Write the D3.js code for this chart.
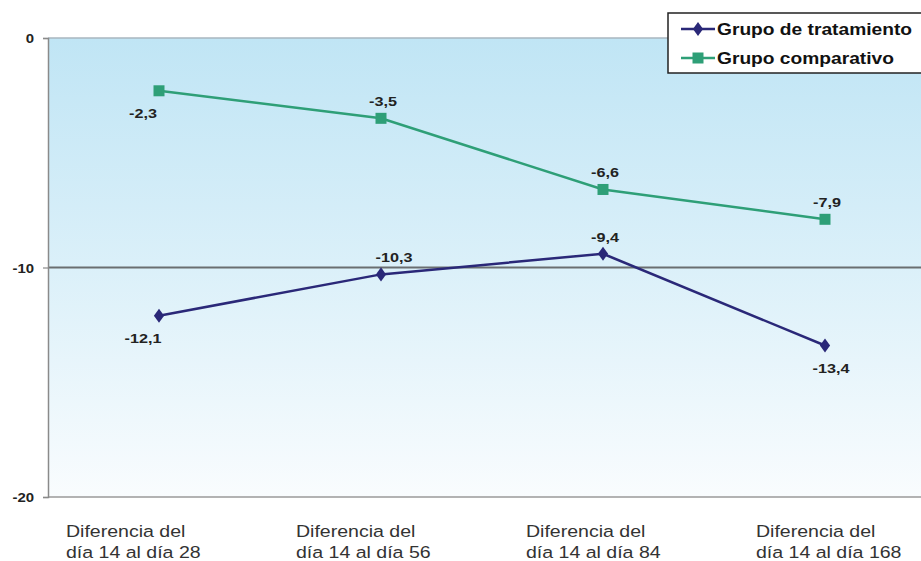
<!DOCTYPE html>
<html>
<head>
<meta charset="utf-8">
<script src="https://cdn.jsdelivr.net/npm/d3@7"></script>
<style>
  html, body { margin: 0; padding: 0; background: #fff; }
  svg { display: block; }
</style>
</head>
<body>
<svg id="chart" width="921" height="561"></svg>
<script>
// Category labels (two lines each)
const categories = ["p28", "p56", "p84", "p168"];
const categoryLines = [
  ["Diferencia del", "día 14 al día 28"],
  ["Diferencia del", "día 14 al día 56"],
  ["Diferencia del", "día 14 al día 84"],
  ["Diferencia del", "día 14 al día 168"]
];
const seriesNames = ["Grupo de tratamiento", "Grupo comparativo"];
const tratamiento = [-12.1, -10.3, -9.4, -13.4];
const comparativo = [-2.3, -3.5, -6.6, -7.9];
const yTicks = [0, -10, -20];
// label side relative to the marker
const tratamientoLabelSide = ["below", "above", "above", "below"];
const comparativoLabelSide = ["below", "above", "above", "above"];

const svg = d3.select("#chart");
const W = 921, H = 561;
const plot = { left: 48, right: 936, top: 38, bottom: 497 };
const FONT = "Liberation Sans, Arial, sans-serif";

const x = d3.scaleBand().domain(categories).range([plot.left, plot.right]);
const y = d3.scaleLinear().domain([-20, 0]).range([plot.bottom, plot.top]);
const cx = c => x(c) + x.bandwidth() / 2;

const fmt = v => String(v).replace(".", ",");

// text drawn with a slightly wide face
function wideText(parent, px, py, str, opts) {
  const sx = opts.sx || 1.2;
  const g = parent.append("g").attr("transform", `translate(${px},${py}) scale(${sx},1)`);
  return g.append("text")
    .attr("x", 0).attr("y", 0)
    .attr("text-anchor", opts.anchor || "start")
    .attr("font-family", FONT)
    .attr("font-weight", opts.weight || "normal")
    .attr("font-size", opts.size)
    .attr("fill", opts.fill || "#222")
    .text(str);
}

// background gradient
const defs = svg.append("defs");
const grad = defs.append("linearGradient").attr("id", "bg").attr("x1", 0).attr("x2", 0).attr("y1", 0).attr("y2", 1);
grad.append("stop").attr("offset", "0%").attr("stop-color", "#c0e5f5");
grad.append("stop").attr("offset", "50%").attr("stop-color", "#dbf0f9");
grad.append("stop").attr("offset", "100%").attr("stop-color", "#f9fcfe");

svg.append("rect")
  .attr("x", plot.left).attr("y", plot.top)
  .attr("width", W - plot.left).attr("height", plot.bottom - plot.top)
  .attr("fill", "url(#bg)");

// top reference line at 0
svg.append("line")
  .attr("x1", plot.left).attr("x2", W)
  .attr("y1", y(0)).attr("y2", y(0))
  .attr("stroke", "#a9b6bf").attr("stroke-width", 1.5);

// -10 gridline
svg.append("line")
  .attr("x1", plot.left).attr("x2", W)
  .attr("y1", y(-10)).attr("y2", y(-10))
  .attr("stroke", "#6a6e70").attr("stroke-width", 2);

// bottom line
svg.append("line")
  .attr("x1", plot.left).attr("x2", W)
  .attr("y1", y(-20)).attr("y2", y(-20))
  .attr("stroke", "#9a9a9a").attr("stroke-width", 1.5);

// y axis
const yAxis = d3.axisLeft(y).tickValues(yTicks).tickSize(5).tickFormat("");
const gy = svg.append("g").attr("transform", `translate(${plot.left},0)`).call(yAxis);
gy.select(".domain").attr("stroke", "#8a8a8a").attr("stroke-width", 1.5);
gy.selectAll(".tick line").attr("stroke", "#8a8a8a").attr("stroke-width", 1.2);
yTicks.forEach(t => {
  wideText(svg, 34, y(t) + 5, t, { anchor: "end", weight: "bold", size: 13, sx: 1.15 });
});

// category labels
const catG = svg.append("g");
categories.forEach((c, i) => {
  categoryLines[i].forEach((ln, j) => {
    wideText(catG, cx(c) - 93 + i * 8, 537 + j * 21, ln, { size: 17, fill: "#333", sx: 1.15 });
  });
});

const series = [
  { values: comparativo, color: "#2e9f77", marker: "square", sides: comparativoLabelSide },
  { values: tratamiento, color: "#2a2878", marker: "diamond", sides: tratamientoLabelSide }
];

const line = d3.line().x((d, i) => cx(categories[i])).y(d => y(d));

function drawMarker(g, type, px, py, color) {
  if (type === "square") {
    g.append("rect").attr("x", px - 5.5).attr("y", py - 5.5).attr("width", 11).attr("height", 11).attr("fill", color);
  } else {
    g.append("path")
      .attr("d", d3.symbol().type(d3.symbolDiamond).size(90)())
      .attr("transform", `translate(${px},${py}) scale(1,0.8)`)
      .attr("fill", color);
  }
}

series.forEach(s => {
  const g = svg.append("g");
  g.append("path").datum(s.values)
    .attr("d", line).attr("fill", "none")
    .attr("stroke", s.color).attr("stroke-width", 2.5);
  s.values.forEach((v, i) => {
    drawMarker(g, s.marker, cx(categories[i]), y(v), s.color);
  });
  s.values.forEach((v, i) => {
    const px = cx(categories[i]), py = y(v);
    let lx = px, ly;
    if (s.sides[i] === "above") { ly = py - 12; lx = px + 2; }
    else { ly = py + 27; lx = px - 16; }
    if (s.marker === "diamond" && i === 1) lx = px + 13;
    if (s.marker === "diamond" && i === 3) lx = px + 6;
    wideText(g, lx, ly, fmt(v), { anchor: "middle", weight: "bold", size: 13.5, sx: 1.2 });
  });
});

// legend
const lg = svg.append("g").attr("transform", "translate(668,13)");
lg.append("rect").attr("x", 0).attr("y", 0).attr("width", 262).attr("height", 60)
  .attr("fill", "#fff").attr("stroke", "#222").attr("stroke-width", 1.5);
const legendItems = [
  { name: seriesNames[0], color: "#2a2878", marker: "diamond" },
  { name: seriesNames[1], color: "#2e9f77", marker: "square" }
];
legendItems.forEach((it, i) => {
  const cy = 16 + i * 29;
  lg.append("line").attr("x1", 13).attr("x2", 47).attr("y1", cy).attr("y2", cy)
    .attr("stroke", it.color).attr("stroke-width", 2.5);
  drawMarker(lg, it.marker, 30, cy, it.color);
  wideText(lg, 49, cy + 6, it.name, { weight: "bold", size: 16, fill: "#111", sx: 1.2 });
});
</script>
</body>
</html>
